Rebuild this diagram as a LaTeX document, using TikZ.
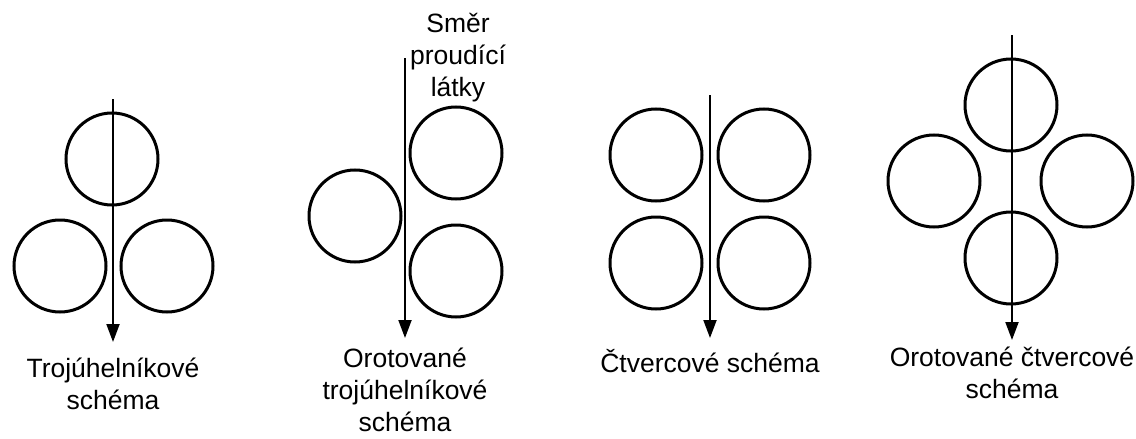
\documentclass[tikz,border=0pt]{standalone}
\usepackage{fontspec}
\setmainfont{Liberation Sans}
\usetikzlibrary{arrows.meta,positioning}

\begin{document}
\begin{tikzpicture}[
    x=0.5pt, y=-0.5pt,
    tube/.style={draw, circle, line width=1.5pt, minimum size=46pt, inner sep=0pt},
    flow/.style={-{Triangle[length=9pt, width=6.5pt]}, line width=1pt},
    caption/.style={align=center, inner sep=0pt,
                    font=\fontsize{13.25pt}{16pt}\selectfont},
]
    \useasboundingbox (0,0) rectangle (1136,439);

    % Trojuhelnikove schema
    \node[tube] (tri1) at (112,159) {};
    \node[tube] (tri2) at (60,266) {};
    \node[tube] (tri3) at (167,266) {};
    \coordinate (triS) at (113,99);
    \coordinate (triE) at (113,342);
    \draw[flow] (triS) -- (triE);
    \node[caption, below=8pt of triE] (triL) {Trojúhelníkové\\schéma};

    % Orotovane trojuhelnikove schema
    \node[tube] (otr1) at (355,216) {};
    \node[tube] (otr2) at (456,153) {};
    \node[tube] (otr3) at (456,271) {};
    \coordinate (otrS) at (405,58);
    \coordinate (otrE) at (405,338);
    \draw[flow] (otrS) -- (otrE);
    \node[caption, below=5pt of otrE] (otrL) {Orotované\\trojúhelníkové\\schéma};
    \node[caption, anchor=north] (smer) at (458,13) {Směr\\proudící\\látky};

    % Ctvercove schema
    \node[tube] (sq1) at (656,155) {};
    \node[tube] (sq2) at (764,155) {};
    \node[tube] (sq3) at (656,263) {};
    \node[tube] (sq4) at (764,263) {};
    \coordinate (sqS) at (710,95);
    \coordinate (sqE) at (710,338);
    \draw[flow] (sqS) -- (sqE);
    \node[caption, below=5.5pt of sqE] (sqL) {Čtvercové schéma};

    % Orotovane ctvercove schema
    \node[tube] (osq1) at (1011,105) {};
    \node[tube] (osq2) at (934,181) {};
    \node[tube] (osq3) at (1087,181) {};
    \node[tube] (osq4) at (1011,258) {};
    \coordinate (osqS) at (1012,35);
    \coordinate (osqE) at (1012,340);
    \draw[flow] (osqS) -- (osqE);
    \node[caption, below=3.5pt of osqE] (osqL) {Orotované čtvercové\\schéma};
\end{tikzpicture}
\end{document}
